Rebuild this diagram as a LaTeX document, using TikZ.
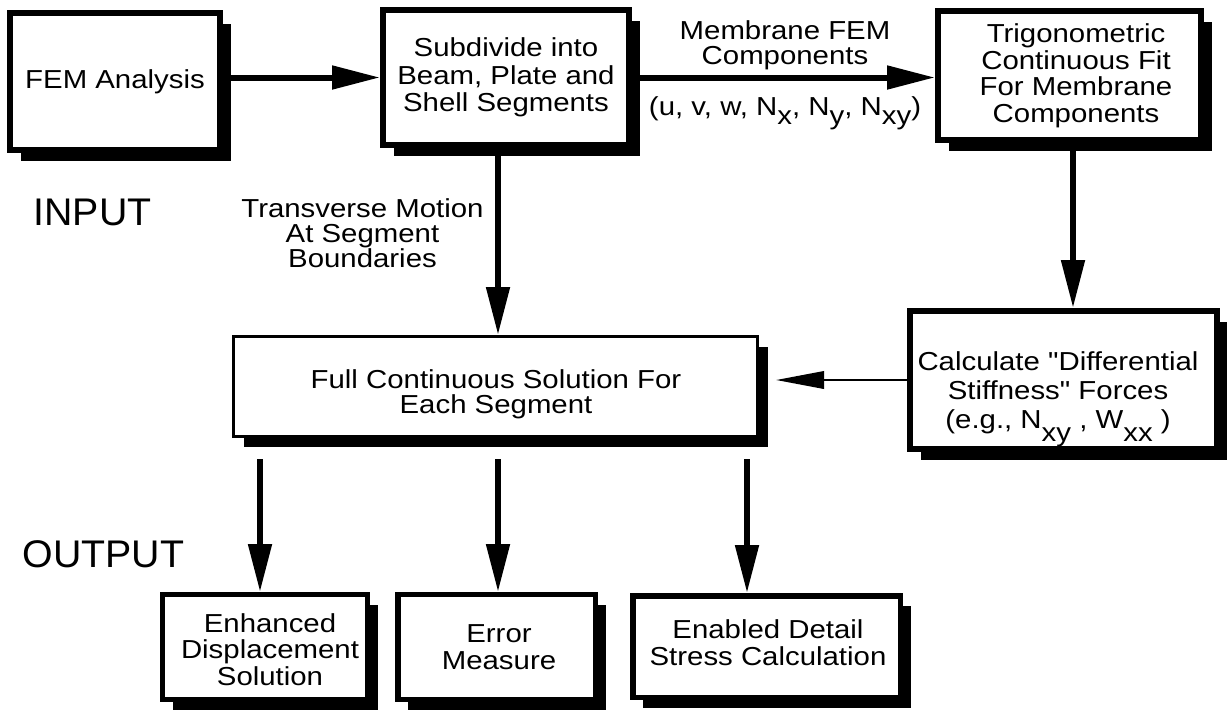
\documentclass[tikz,border=0pt]{standalone}
\usepackage{fontspec}
\setmainfont{Liberation Sans}
\newfontfamily\boxfont[FakeStretch=1.13]{Liberation Sans}
\newfontfamily\bigfont[FakeStretch=1.02]{Liberation Sans}
\usetikzlibrary{arrows.meta,shadows,calc}
\newlength{\pxu}\setlength{\pxu}{0.75pt}
\newcommand{\lowsub}[1]{\raisebox{-9\pxu}{#1}}
\newcommand{\lowsubb}[1]{\raisebox{-13\pxu}{#1}}
\begin{document}
\begin{tikzpicture}[x=0.75pt,y=-0.75pt,
  shadowed/.style={drop shadow={shadow xshift=8pt,shadow yshift=-8pt,fill=black,opacity=1}},
  txt/.style={font=\boxfont\fontsize{19.5pt}{20.25pt}\selectfont, align=center, inner sep=0pt},
  topbox/.style={draw=black, fill=white, line width=4.5pt, inner sep=0pt, shadowed, txt},
  fullbox/.style={draw=black, fill=white, line width=2.25pt, inner sep=0pt, shadowed},
  outbox/.style={draw=black, fill=white, line width=4.1pt, inner sep=0pt, shadowed, txt},
  bigtxt/.style={font=\bigfont\fontsize{28.9pt}{30pt}\selectfont, inner sep=0pt},
  arr/.style={line width=4.5pt, -{Triangle[length=36pt,width=17pt]}},
  thinarr/.style={line width=1.9pt, -{Triangle[length=36pt,width=13pt]}}]
\fill[white] (0,0) rectangle (1227,715);
\useasboundingbox (0,0) rectangle (1227,715);
% boxes
\node[topbox, minimum width=157.5pt, minimum height=102.75pt] (fem) at (115,81.5) {FEM Analysis};
\node[topbox, minimum width=184.5pt, minimum height=101.25pt,
      font=\boxfont\fontsize{19.5pt}{20.6pt}\selectfont] (sub) at (506,77.5)
      {Subdivide into\\Beam, Plate and\\Shell Segments};
\node[topbox, minimum width=197.25pt, minimum height=96.75pt] (trig) at (1069.5,75.5) {};
\node[txt, font=\boxfont\fontsize{19.5pt}{19.9pt}\selectfont] (trigt) at (1076,75.7)
      {Trigonometric\\Continuous Fit\\For Membrane\\Components};
\node[topbox, minimum width=230.25pt, minimum height=103.5pt] (calc) at (1063.5,380) {};
\node[txt, font=\boxfont\fontsize{19.5pt}{21.75pt}\selectfont] (calct) at (1058,399)
      {Calculate "Differential\\Stiffness" Forces\\(e.g., N\lowsubb{xy} , W\lowsubb{xx} )};
\node[fullbox, minimum width=393pt, minimum height=75pt] (full) at (495.5,386.5) {};
\node[txt, font=\boxfont\fontsize{19.5pt}{18.75pt}\selectfont] (fullt) at (496,394)
      {Full Continuous Solution For\\Each Segment};
\node[outbox, minimum width=153.4pt, minimum height=78.4pt] (o1) at (265,647) {};
\node[txt, font=\boxfont\fontsize{19.5pt}{19.9pt}\selectfont] (o1t) at (270,649.4)
      {Enhanced\\Displacement\\Solution};
\node[outbox, minimum width=148.1pt, minimum height=78.4pt] (o2) at (496.5,647) {};
\node[txt, font=\boxfont\fontsize{19.5pt}{20.25pt}\selectfont] (o2t) at (499,647.2)
      {Error\\Measure};
\node[outbox, minimum width=200.6pt, minimum height=76.1pt] (o3) at (766.5,646.5) {};
\node[txt, font=\boxfont\fontsize{19.5pt}{20.25pt}\selectfont] (o3t) at (768,642.2)
      {Enabled Detail\\Stress Calculation};
% side labels
\node[bigtxt, anchor=base] (inp) at (92.5,225) {INPUT};
\node[bigtxt, anchor=base] (outp) at (103.5,567) {OUTPUT};
% connector labels
\node[txt, font=\boxfont\fontsize{19.5pt}{18.75pt}\selectfont] (memlbl) at (785,45)
      {Membrane FEM\\Components};
\node[txt, anchor=base] (complbl) at (785,115)
      {(u, v, w, N\lowsub{x}, N\lowsub{y}, N\lowsub{xy})};
\node[txt, font=\boxfont\fontsize{19.5pt}{19.1pt}\selectfont] (trlbl) at (362.5,233.2)
      {Transverse Motion\\At Segment\\Boundaries};
% helper coordinates
\coordinate (tx) at (498,0);
\coordinate (ax) at (1073,0);
\coordinate (ctip) at (776,0);
\coordinate (d1) at (260,0);
\coordinate (d2) at (498,0);
\coordinate (d3) at (747,0);
% connectors
\draw[arr] (fem.east |- sub.west) -- (sub.west);
\draw[arr] (sub.east) -- (sub.east -| trig.west);
\draw[arr] (trig.south -| ax) -- (calc.north -| ax);
\draw[arr] (sub.south -| tx) -- (full.north -| tx);
\draw[thinarr] (calc.west) -- (calc.west -| ctip);
\draw[arr] ($(full.south -| d1)+(0,21)$) -- (o1.north -| d1);
\draw[arr] ($(full.south -| d2)+(0,21)$) -- (o2.north -| d2);
\draw[arr] ($(full.south -| d3)+(0,21)$) -- (o3.north -| d3);
\end{tikzpicture}
\end{document}
